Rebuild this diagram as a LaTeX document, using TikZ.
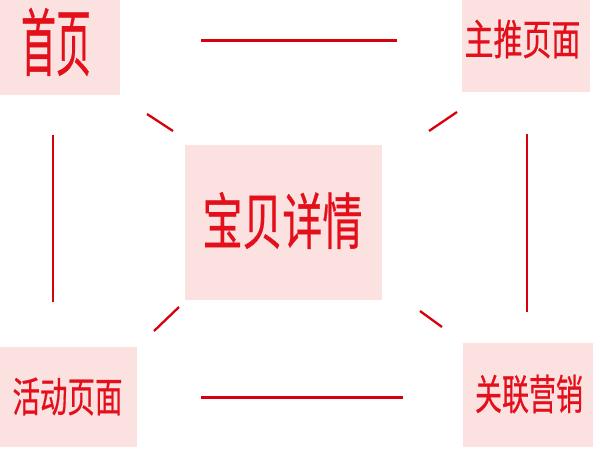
\documentclass[tikz,border=0pt]{standalone}
\usepackage{fontspec}
\usepackage{graphicx}
\newfontfamily\cjk[FakeBold=0.6]{Noto Sans CJK SC}
\definecolor{boxpink}{HTML}{FCE1E1}
\definecolor{txtred}{HTML}{E3101C}
\definecolor{linered}{HTML}{D9000E}
\tikzset{
  pagebox/.style={fill=boxpink, draw=none, inner sep=0pt},
  pagetext/.style={text=txtred, inner sep=0pt, font=\cjk},
  link/.style={draw=linered, line width=2.3pt}
}
\begin{document}
\begin{tikzpicture}[x=1pt,y=-1pt]
\useasboundingbox (0,0) rectangle (600,456);
% boxes
\node[pagebox, minimum width=120pt, minimum height=95pt] (home) at (60,47.5) {};
\node[pagebox, minimum width=128pt, minimum height=92pt] (main) at (526,46) {};
\node[pagebox, minimum width=137pt, minimum height=100pt] (act) at (68.5,397) {};
\node[pagebox, minimum width=130pt, minimum height=104pt] (rel) at (528,395) {};
\node[pagebox, minimum width=197pt, minimum height=155pt] (item) at (283.5,222.5) {};
% texts
\node[pagetext] (homet) at (56,42) {\scalebox{1}[2.1]{\fontsize{35}{35}\selectfont 首页}};
\node[pagetext] (maint) at (522.5,39) {\scalebox{1}[1.45]{\fontsize{29}{29}\selectfont 主推页面}};
\node[pagetext] (actt) at (67.5,396.5) {\scalebox{1}[1.5]{\fontsize{27.5}{27.5}\selectfont 活动页面}};
\node[pagetext] (relt) at (529,394) {\scalebox{1}[1.55]{\fontsize{27}{27}\selectfont 关联营销}};
\node[pagetext] (itemt) at (282.5,220.5) {\scalebox{1}[1.53]{\fontsize{40}{40}\selectfont 宝贝详情}};
% connector end points
\coordinate (t1) at (201,40.5);   \coordinate (t2) at (397,40.5);
\coordinate (b1) at (201,397.5);  \coordinate (b2) at (403,397.5);
\coordinate (l1) at (53,135);     \coordinate (l2) at (53,302);
\coordinate (r1) at (527,134);    \coordinate (r2) at (527,312);
\coordinate (d1a) at (147,114);   \coordinate (d1b) at (173,131);
\coordinate (d2a) at (429,131);   \coordinate (d2b) at (457,112);
\coordinate (d3a) at (154,331);   \coordinate (d3b) at (179,307);
\coordinate (d4a) at (420,311);   \coordinate (d4b) at (442,327);
\draw[link] (t1) -- (t2);
\draw[link] (b1) -- (b2);
\draw[link] (l1) -- (l2);
\draw[link] (r1) -- (r2);
\draw[link] (d1a) -- (d1b);
\draw[link] (d2a) -- (d2b);
\draw[link] (d3a) -- (d3b);
\draw[link] (d4a) -- (d4b);
\end{tikzpicture}
\end{document}
